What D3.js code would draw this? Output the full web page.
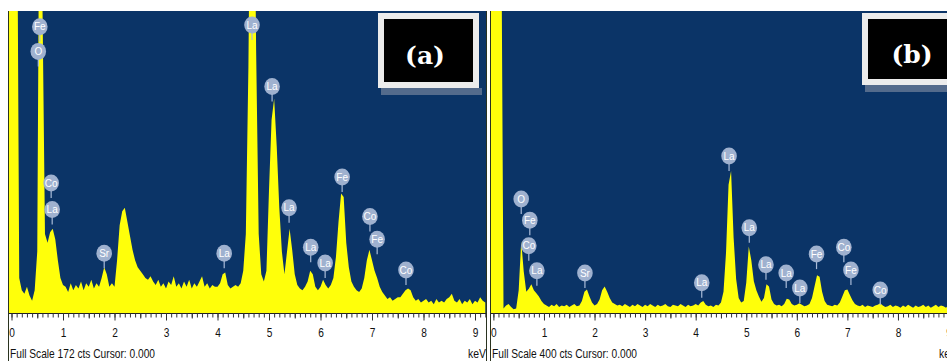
<!DOCTYPE html>
<html>
<head>
<meta charset="utf-8">
<script src="https://cdn.jsdelivr.net/npm/d3@7/dist/d3.min.js"></script>
<style>
  body { margin: 0; background: #fff; }
  svg { display: block; }
  .tick text { font-family: "Liberation Sans", Arial, sans-serif; font-size: 13.5px; fill: #111; }
  .tick line { stroke: #333; }
  .foot { font-family: "Liberation Sans", Arial, sans-serif; font-size: 12.5px; fill: #111; }
  .bubble text { font-family: "Liberation Sans", Arial, sans-serif; font-size: 10px; fill: #fff; }
  .tag { font-family: "DejaVu Serif", serif; font-weight: bold; font-size: 25px; fill: #fff; }
</style>
</head>
<body>
<svg id="chart" width="947" height="361"></svg>
<script>
// energy channels of the spectra (keV)
var energyStart = -0.05;
var channelStep = 0.05;

// panel (a) counts, one per channel
var countsA = [
  300, 300, 300, 300, 20, 13, 11, 15, 10, 7, 13, 35, 300, 180, 45, 40, 46, 48, 42, 30, 20,
  16, 15, 12, 17, 13, 16, 14, 18, 13, 17, 15, 19, 14, 17, 15, 20, 26, 22, 15, 17,
  15, 30, 50, 58, 60, 52, 44, 36, 30, 26, 24, 22, 20, 19, 21, 18, 16, 19, 15, 17,
  14, 18, 16, 21, 15, 17, 14, 18, 15, 19, 14, 17, 15, 18, 21, 15, 17, 14, 16, 15,
  15, 17, 22, 23, 16, 14, 15, 16, 15, 17, 24, 45, 140, 300, 300, 150, 45, 22, 18, 24,
  70, 110, 122, 95, 60, 35, 22, 35, 48, 36, 22, 16, 14, 13, 15, 18, 24, 22, 15, 13,
  15, 19, 16, 14, 16, 20, 32, 52, 68, 66, 40, 26, 18, 15, 13, 12, 14, 20, 30, 36,
  30, 24, 20, 15, 12, 10, 8, 9, 7, 8, 9, 9, 11, 13, 14, 13, 9, 7, 8, 6,
  7, 8, 6, 7, 5, 8, 6, 7, 6, 8, 9, 11, 7, 6, 8, 5, 7, 6, 8, 5,
  7, 6, 9, 7, 6
];

// panel (b) counts
var countsB = [
  600, 600, 600, 600, 600, 6, 10, 12, 8, 5, 6, 30, 95, 55, 28, 32, 38, 30, 26, 22, 16,
  12, 10, 8, 11, 9, 12, 8, 10, 9, 11, 8, 10, 12, 9, 10, 16, 28, 31, 22, 14,
  10, 12, 18, 30, 35, 28, 20, 14, 12, 10, 11, 9, 12, 10, 8, 11, 9, 12, 10, 8,
  11, 9, 12, 10, 8, 11, 9, 10, 12, 9, 8, 11, 10, 9, 12, 10, 8, 11, 9, 10,
  12, 10, 14, 16, 11, 9, 10, 8, 11, 10, 14, 28, 80, 170, 188, 100, 45, 20, 14, 16,
  40, 88, 70, 42, 30, 22, 15, 20, 38, 35, 18, 12, 10, 11, 9, 12, 19, 18, 12, 10,
  11, 13, 11, 9, 10, 12, 20, 35, 50, 48, 28, 16, 11, 10, 9, 11, 10, 14, 22, 30,
  31, 24, 17, 12, 10, 9, 11, 8, 10, 9, 8, 10, 11, 13, 10, 8, 9, 11, 8, 10,
  9, 7, 10, 8, 11, 9, 7, 10, 8, 9, 11, 8, 10, 7, 9, 11, 8, 10, 9, 7,
  10
];

var fullScaleA = 172;
var fullScaleB = 400;
var axisLabels = [0, 1, 2, 3, 4, 5, 6, 7, 8, 9];

// peak markers: element, energy (keV), marker height (cts)
var markA = ["Fe", "O", "Co", "La", "Sr", "La", "La", "La", "La", "La", "La", "Fe", "Co", "Fe", "Co"];
var markAKeV = [0.55, 0.52, 0.77, 0.79, 1.80, 4.13, 4.67, 5.06, 5.39, 5.81, 6.09, 6.42, 6.96, 7.10, 7.66];
var markACts = [163, 149, 74, 59, 34, 34, 164, 129, 60, 37.5, 28.5, 77.5, 55, 42, 24.5];

var markB = ["O", "Fe", "Co", "La", "Sr", "La", "La", "La", "La", "La", "La", "Fe", "Co", "Fe", "Co"];
var markBKeV = [0.55, 0.72, 0.70, 0.86, 1.81, 4.12, 4.66, 5.06, 5.39, 5.79, 6.06, 6.39, 6.93, 7.07, 7.65];
var markBCts = [151, 123, 89, 56, 53, 40, 208, 113, 64, 53, 33, 78, 87, 57, 30.5];

var svg = d3.select("#chart");
var plotTop = 11;
var plotBottom = 313;

function drawPanel(p) {
  var g = svg.append("g");
  var x = d3.scaleLinear().domain([0, 9]).range([p.zeroX, p.zeroX + 9 * p.pxPerKeV]);
  var y = d3.scaleLinear().domain([0, p.fullScale]).range([plotBottom, plotTop]);

  svg.append("clipPath").attr("id", "clip" + p.name)
    .append("rect")
    .attr("x", p.left).attr("y", plotTop)
    .attr("width", p.right - p.left).attr("height", plotBottom - plotTop);
  svg.append("clipPath").attr("id", "clipAx" + p.name)
    .append("rect")
    .attr("x", p.left).attr("y", 0)
    .attr("width", p.right - p.left).attr("height", 361);

  // background
  g.append("rect")
    .attr("x", p.left).attr("y", plotTop)
    .attr("width", p.right - p.left).attr("height", plotBottom - plotTop)
    .attr("fill", "#0b3467");

  // spectrum
  var pts = p.counts.map(function (c, i) {
    return { e: energyStart + i * channelStep, c: c };
  });
  var area = d3.area()
    .x(function (d) { return x(d.e); })
    .y0(plotBottom)
    .y1(function (d) { return y(d.c); });
  g.append("path")
    .datum(pts)
    .attr("clip-path", "url(#clip" + p.name + ")")
    .attr("d", area)
    .attr("fill", "#ffff0a");

  // axis
  var ax = g.append("g").attr("clip-path", "url(#clipAx" + p.name + ")");
  ax.append("line")
    .attr("x1", p.left).attr("x2", p.right)
    .attr("y1", plotBottom + 0.5).attr("y2", plotBottom + 0.5)
    .attr("stroke", "#222");
  var minor = d3.axisBottom(x).tickValues(d3.range(0, 9.25, 0.1)).tickSize(4).tickFormat("");
  ax.append("g").attr("transform", "translate(0," + (plotBottom + 0.5) + ")").call(minor)
    .call(function (s) { s.select(".domain").remove(); });
  var half = d3.axisBottom(x).tickValues(d3.range(0.5, 9.5, 1)).tickSize(5).tickFormat("");
  ax.append("g").attr("transform", "translate(0," + (plotBottom + 0.5) + ")").call(half)
    .call(function (s) { s.select(".domain").remove(); });
  var major = d3.axisBottom(x).tickValues(axisLabels).tickSize(7).tickPadding(7).tickFormat(d3.format("d"));
  ax.append("g").attr("transform", "translate(0," + (plotBottom + 0.5) + ")").call(major)
    .call(function (s) {
      s.select(".domain").remove();
      // narrow digits like the instrument font
      s.selectAll(".tick text").attr("transform", "scale(0.75,1)");
    });

  // frame lines
  g.append("line").attr("x1", p.left - 0.5).attr("x2", p.left - 0.5)
    .attr("y1", plotTop).attr("y2", 361).attr("stroke", "#2a3320");
  g.append("line").attr("x1", p.right + 0.5).attr("x2", p.right + 0.5)
    .attr("y1", plotTop).attr("y2", 361).attr("stroke", "#2a3320");

  // footer text
  g.append("text").attr("class", "foot")
    .attr("x", p.left + 1).attr("y", 358)
    .attr("textLength", 145).attr("lengthAdjust", "spacingAndGlyphs")
    .text("Full Scale " + p.fullScale + " cts Cursor: 0.000");
  g.append("text").attr("class", "foot")
    .attr("x", p.kevX - 18).attr("y", 358)
    .attr("textLength", 18).attr("lengthAdjust", "spacingAndGlyphs")
    .text("keV");

  // peak markers
  var marks = p.marks.map(function (m, i) {
    return { el: m, e: p.markKeV[i], c: p.markCts[i] };
  });
  var mg = g.append("g").attr("class", "bubble").attr("clip-path", "url(#clip" + p.name + ")");
  mg.selectAll("line").data(marks).join("line")
    .attr("x1", function (d) { return x(d.e); })
    .attr("x2", function (d) { return x(d.e); })
    .attr("y1", function (d) { return y(d.c) + 7; })
    .attr("y2", function (d) { return y(d.c) + 15; })
    .attr("stroke", "#a9bbd8").attr("stroke-width", 1.2);
  var b = mg.selectAll("g").data(marks).join("g")
    .attr("transform", function (d) { return "translate(" + x(d.e) + "," + y(d.c) + ")"; });
  b.append("ellipse").attr("rx", 7.8).attr("ry", 8.5).attr("fill", "#9fb1cf");
  b.append("text").attr("text-anchor", "middle").attr("dy", "0.36em").text(function (d) { return d.el; });

  // tag box
  var t = p.tag;
  g.append("rect").attr("x", t.x + 3).attr("y", t.y + t.h).attr("width", t.w).attr("height", 7)
    .attr("fill", "#6e7d98").attr("opacity", 0.75);
  g.append("rect").attr("x", t.x).attr("y", t.y).attr("width", t.w).attr("height", t.h)
    .attr("fill", "#ececec");
  g.append("rect").attr("x", t.x + 6).attr("y", t.y + 6).attr("width", t.w - 12).attr("height", t.h - 12)
    .attr("fill", "#000");
  g.append("text").attr("class", "tag")
    .attr("x", t.tx).attr("y", t.ty).attr("text-anchor", "middle")
    .text(t.label);
}

drawPanel({
  name: "a", left: 9, right: 486, zeroX: 11.5, pxPerKeV: 51.5,
  fullScale: fullScaleA, counts: countsA, kevX: 486,
  marks: markA, markKeV: markAKeV, markCts: markACts,
  tag: { x: 378, y: 13, w: 101, h: 75, tx: 425, ty: 64, label: "(a)" }
});
drawPanel({
  name: "b", left: 491, right: 960, zeroX: 493.4, pxPerKeV: 50.57,
  fullScale: fullScaleB, counts: countsB, kevX: 957,
  marks: markB, markKeV: markBKeV, markCts: markBCts,
  tag: { x: 862, y: 13, w: 100, h: 72, tx: 912, ty: 63, label: "(b)" }
});
</script>
</body>
</html>
